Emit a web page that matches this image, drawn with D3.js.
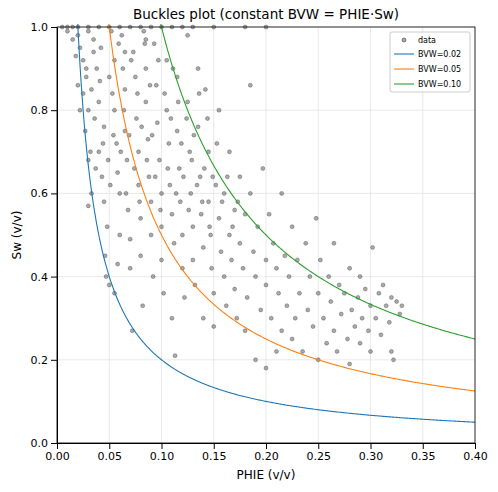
<!DOCTYPE html><html><head><meta charset="utf-8"><script src="https://cdn.jsdelivr.net/npm/d3@7"></script>
<style>body{margin:0;background:#fff}text{font-family:"DejaVu Sans",sans-serif}</style></head><body><svg id="c" width="498" height="492"></svg><script>
const phie=[0.02,0.022,0.025,0.03,0.028,0.033,0.035,0.03,0.027,0.032,0.03,0.033,0.03,0.038,0.04,0.042,0.045,0.04,0.043,0.045,0.048,0.046,0.047,0.05,0.05,0.052,0.055,0.055,0.057,0.058,0.06,0.06,0.058,0.055,0.062,0.065,0.065,0.067,0.068,0.07,0.07,0.072,0.073,0.075,0.076,0.078,0.078,0.08,0.08,0.082,0.083,0.085,0.085,0.087,0.088,0.09,0.09,0.092,0.093,0.095,0.096,0.098,0.1,0.1,0.1,0.102,0.105,0.105,0.107,0.108,0.11,0.11,0.112,0.113,0.115,0.115,0.117,0.118,0.12,0.12,0.122,0.125,0.125,0.127,0.128,0.13,0.13,0.132,0.135,0.135,0.137,0.138,0.14,0.14,0.142,0.145,0.145,0.147,0.148,0.15,0.15,0.152,0.155,0.155,0.157,0.16,0.16,0.162,0.165,0.165,0.167,0.17,0.17,0.172,0.175,0.175,0.178,0.18,0.18,0.182,0.185,0.185,0.188,0.19,0.19,0.192,0.195,0.197,0.2,0.2,0.2,0.203,0.205,0.207,0.21,0.21,0.212,0.215,0.215,0.218,0.22,0.222,0.225,0.225,0.228,0.23,0.232,0.235,0.238,0.24,0.242,0.245,0.248,0.25,0.25,0.252,0.255,0.258,0.26,0.262,0.265,0.265,0.268,0.27,0.272,0.275,0.278,0.28,0.28,0.282,0.285,0.288,0.29,0.29,0.292,0.295,0.298,0.3,0.3,0.302,0.305,0.308,0.31,0.312,0.315,0.318,0.32,0.32,0.322,0.325,0.328,0.33,0.005,0.01,0.015,0.02,0.04,0.06,0.08,0.1,0.12,0.15,0.18,0.2,0.015,0.018,0.02,0.022,
0.025,0.028,0.036,0.037,0.041,0.044,0.049,0.051,0.053,0.054,0.059,0.061,0.063,0.064,0.066,0.069,0.071,0.074,0.077,0.079,0.081,0.084,0.086,0.089,0.091,0.094,0.097,0.099,0.103,0.106,0.109,0.111,0.114,0.116,0.119,0.121,0.124,0.126,0.129,0.131,0.134,0.136,0.139,0.141,0.144,0.146,0.149,0.153,0.158,0.163,0.168,0.173,0.01,0.03,0.05,0.07,0.09,0.11,0.13,0.035,0.065,0.085];
const sw=[0.98,0.95,0.92,0.99,0.88,0.85,0.97,0.8,0.75,0.7,0.68,0.6,0.57,0.9,0.82,0.95,0.76,0.7,0.64,0.58,0.52,0.45,0.4,0.38,0.88,0.99,0.92,0.8,0.72,0.65,0.6,0.5,0.43,0.36,0.98,0.85,0.75,0.68,0.56,0.49,0.42,0.27,0.94,0.88,0.78,0.7,0.62,0.54,0.45,0.33,0.99,0.9,0.82,0.73,0.64,0.58,0.5,0.4,0.96,0.86,0.77,0.68,0.6,0.52,0.44,0.36,0.92,0.8,0.72,0.62,0.55,0.3,0.48,0.21,0.88,0.75,0.66,0.58,0.5,0.42,0.35,0.98,0.82,0.7,0.6,0.52,0.44,0.38,0.9,0.76,0.64,0.55,0.47,0.3,0.85,0.7,0.58,0.5,0.42,0.36,0.28,0.62,0.8,0.54,0.46,0.4,0.6,0.33,0.7,0.5,0.44,0.56,0.37,0.3,0.64,0.48,0.42,0.55,0.27,0.35,0.86,0.6,0.46,0.4,0.2,0.52,0.32,0.66,0.44,0.38,0.18,0.55,0.3,0.48,0.42,0.22,0.36,0.6,0.27,0.45,0.33,0.4,0.52,0.25,0.3,0.44,0.36,0.22,0.48,0.32,0.4,0.28,0.54,0.36,0.2,0.44,0.3,0.24,0.4,0.34,0.48,0.27,0.22,0.38,0.31,0.36,0.25,0.42,0.19,0.32,0.28,0.35,0.4,0.24,0.3,0.37,0.27,0.33,0.22,0.47,0.3,0.36,0.26,0.38,0.33,0.29,0.35,0.22,0.2,0.34,0.31,0.33,1,1,1,1,1,1,1,1,1,1,1,1,0.97,0.93,0.86,0.8,
0.84,0.9,0.78,0.66,0.87,0.72,0.68,0.62,0.84,0.74,0.96,0.7,0.9,0.8,0.6,0.74,0.92,0.66,0.84,0.58,0.76,0.96,0.68,0.86,0.74,0.64,0.92,0.56,0.84,0.66,0.78,0.9,0.6,0.82,0.72,0.64,0.78,0.56,0.68,0.74,0.62,0.84,0.58,0.66,0.78,0.52,0.64,0.72,0.58,0.64,0.52,0.58,0.99,1,1,1,1,1,1,0.94,0.94,0.97];
const bvw=[0.02,0.05,0.10], colors=["#1f77b4","#ff7f0e","#2ca02c"];
const xTicks=[0,0.05,0.1,0.15,0.2,0.25,0.3,0.35,0.4], yTicks=[0,0.2,0.4,0.6,0.8,1.0];
const svg=d3.select("#c"), L=57,R=475,T=27,B=443;
const x=d3.scaleLinear().domain([0,0.4]).range([L,R]), y=d3.scaleLinear().domain([0,1]).range([B,T]);
const g=svg.append("g");
g.selectAll(".gx").data(xTicks).join("line").attr("x1",x).attr("x2",x).attr("y1",T).attr("y2",B).attr("stroke","#e3e3e3").attr("stroke-width",0.8);
g.selectAll(".gy").data(yTicks).join("line").attr("y1",y).attr("y2",y).attr("x1",L).attr("x2",R).attr("stroke","#e3e3e3").attr("stroke-width",0.8);
svg.append("clipPath").attr("id","cp").append("rect").attr("x",L).attr("y",T-3).attr("width",R-L).attr("height",B-T+3);
const pg=svg.append("g").attr("clip-path","url(#cp)");
pg.selectAll("circle").data(phie.map((p,i)=>[p,sw[i]])).join("circle").attr("cx",d=>x(d[0])).attr("cy",d=>y(d[1])).attr("r",2).attr("fill","#555").attr("fill-opacity",0.5).attr("stroke","#222").attr("stroke-opacity",0.6).attr("stroke-width",0.5);
const grid=d3.range(0.005,0.4001,0.001);
bvw.forEach((b,i)=>{pg.append("path").attr("d",d3.line().x(p=>x(p)).y(p=>y(Math.min(b/p,1.2)))(grid)).attr("fill","none").attr("stroke",colors[i]).attr("stroke-width",1.1);});
svg.append("g").attr("transform",`translate(0,${B})`).call(d3.axisBottom(x).tickValues(xTicks).tickFormat(d3.format(".2f")).tickSizeOuter(0)).attr("font-size",11);
svg.append("g").attr("transform",`translate(${L},0)`).call(d3.axisLeft(y).tickValues(yTicks).tickFormat(d3.format(".1f")).tickSizeOuter(0)).attr("font-size",11);
svg.append("rect").attr("x",L).attr("y",T).attr("width",R-L).attr("height",B-T).attr("fill","none").attr("stroke","#000").attr("stroke-width",0.8);
svg.append("text").attr("x",(L+R)/2).attr("y",19).attr("text-anchor","middle").attr("font-size",13.5).text("Buckles plot (constant BVW = PHIE·Sw)");
svg.append("text").attr("x",(L+R)/2).attr("y",479).attr("text-anchor","middle").attr("font-size",12).text("PHIE (v/v)");
svg.append("text").attr("transform",`translate(21,${(T+B)/2}) rotate(-90)`).attr("text-anchor","middle").attr("font-size",12).text("Sw (v/v)");
const lg=svg.append("g").attr("transform","translate(390,32)");
lg.append("rect").attr("width",80).attr("height",60).attr("rx",2).attr("fill","#fff").attr("fill-opacity",0.85).attr("stroke","#ccc");
lg.append("circle").attr("cx",14).attr("cy",8).attr("r",2).attr("fill","#555").attr("fill-opacity",0.5).attr("stroke","#222").attr("stroke-width",0.5);
lg.append("text").attr("x",28).attr("y",11).attr("font-size",8).text("data");
bvw.forEach((b,i)=>{const yy=22+i*15;lg.append("line").attr("x1",4).attr("x2",24).attr("y1",yy).attr("y2",yy).attr("stroke",colors[i]).attr("stroke-width",1.1);
lg.append("text").attr("x",28).attr("y",yy+3).attr("font-size",8).text("BVW="+b.toFixed(2));});
</script></body></html>
